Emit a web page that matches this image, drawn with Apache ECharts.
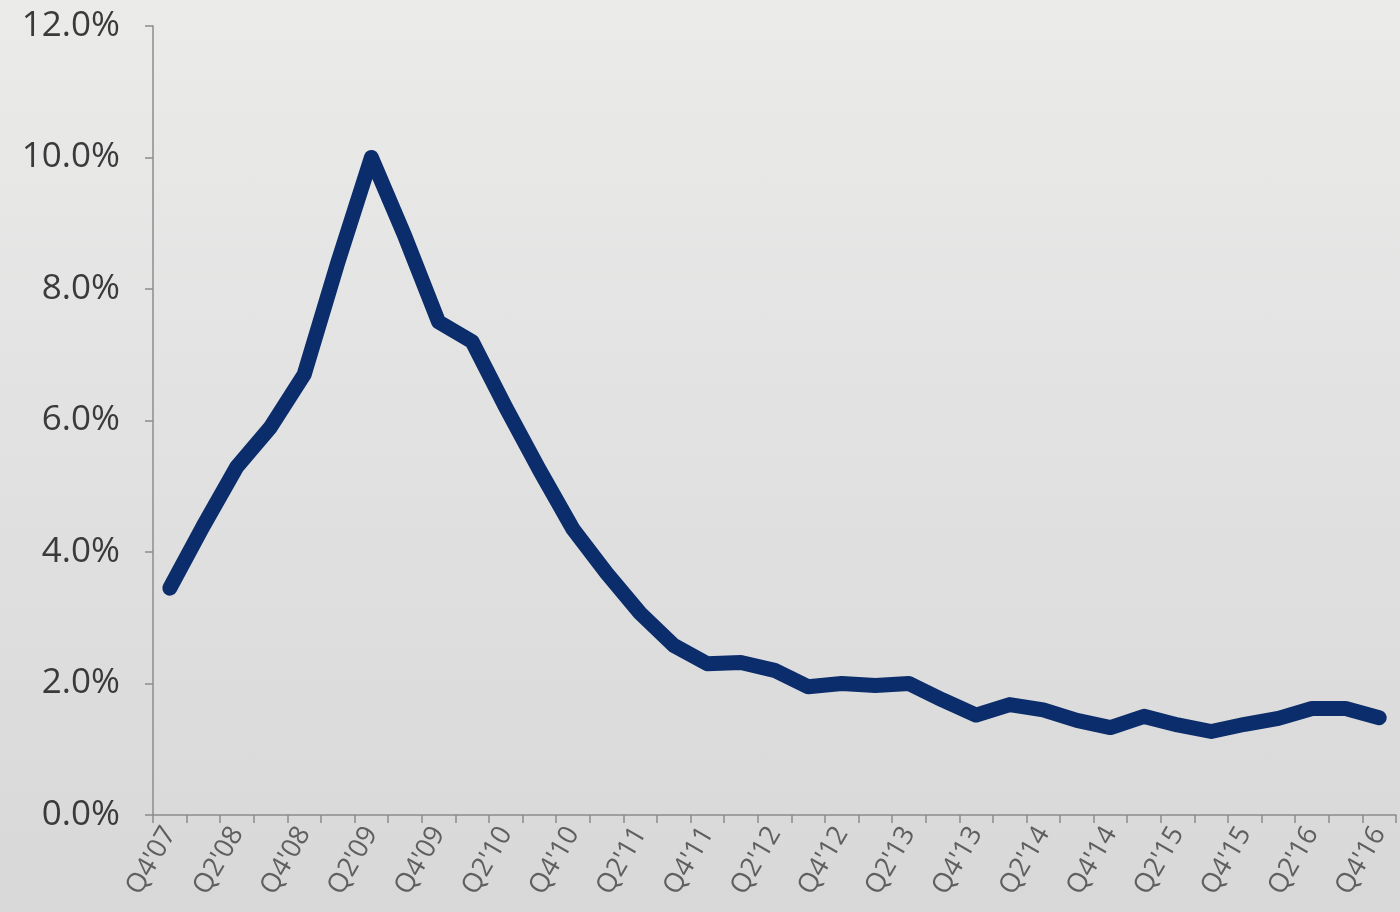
<!DOCTYPE html>
<html>
<head>
<meta charset="utf-8">
<title>Quarterly rate, Q4'07 – Q4'16</title>
<script src="https://cdn.jsdelivr.net/npm/echarts@6/dist/echarts.min.js"></script>
<style>
  html, body { margin: 0; padding: 0; }
  body {
    width: 1400px; height: 912px; overflow: hidden;
    background: linear-gradient(180deg, #ebebea 0%, #e2e2e2 45%, #d8d8d8 100%);
  }
  #chart { width: 1400px; height: 912px; }
</style>
</head>
<body>
<div id="chart"></div>
<script>
// Quarter labels along the horizontal axis
const quarters = [
  "Q4'07",
  "Q1'08", "Q2'08", "Q3'08", "Q4'08",
  "Q1'09", "Q2'09", "Q3'09", "Q4'09",
  "Q1'10", "Q2'10", "Q3'10", "Q4'10",
  "Q1'11", "Q2'11", "Q3'11", "Q4'11",
  "Q1'12", "Q2'12", "Q3'12", "Q4'12",
  "Q1'13", "Q2'13", "Q3'13", "Q4'13",
  "Q1'14", "Q2'14", "Q3'14", "Q4'14",
  "Q1'15", "Q2'15", "Q3'15", "Q4'15",
  "Q1'16", "Q2'16", "Q3'16", "Q4'16"
];

// Rate per quarter, in percent
const rates = [
  3.45,
  4.4, 5.3, 5.9, 6.7,
  8.4, 10.0, 8.8, 7.5,
  7.2, 6.2, 5.25, 4.35,
  3.68, 3.07, 2.58, 2.3,
  2.32, 2.2, 1.95, 2.0,
  1.97, 2.0, 1.75, 1.52,
  1.68, 1.6, 1.44, 1.33,
  1.5, 1.37, 1.27, 1.38,
  1.47, 1.62, 1.62, 1.48
];

// Value axis range and step, in percent
const yMin = 0;
const yMax = 12;
const yStep = 2;

const chart = echarts.init(document.getElementById('chart'), null, { renderer: 'canvas' });

chart.setOption({
  backgroundColor: 'transparent',
  animation: false,
  grid: { left: 153, right: 4, top: 26, bottom: 97, containLabel: false },
  xAxis: {
    type: 'category',
    data: quarters,
    boundaryGap: true,
    axisLine: { show: true, lineStyle: { color: '#8c8c8c', width: 1.5 } },
    axisTick: { show: true, interval: 0, length: 8, lineStyle: { color: '#8c8c8c', width: 1.5 } },
    axisLabel: {
      interval: 1,
      rotate: 60,
      margin: 14,
      color: '#5f5f5f',
      fontFamily: 'Open Sans',
      fontSize: 27
    },
    splitLine: { show: false }
  },
  yAxis: {
    type: 'value',
    min: yMin,
    max: yMax,
    interval: yStep,
    axisLine: { show: true, lineStyle: { color: '#8c8c8c', width: 1.5 } },
    axisTick: { show: true, length: 8, lineStyle: { color: '#8c8c8c', width: 1.5 } },
    axisLabel: {
      margin: 33,
      color: '#3a3a3a',
      fontFamily: 'Open Sans',
      fontSize: 35,
      formatter: v => v.toFixed(1) + '%'
    },
    splitLine: { show: false }
  },
  series: [{
    type: 'line',
    data: rates,
    symbol: 'none',
    smooth: false,
    lineStyle: { color: '#0c2d6b', width: 15, cap: 'round', join: 'round' }
  }]
});
</script>
</body>
</html>
